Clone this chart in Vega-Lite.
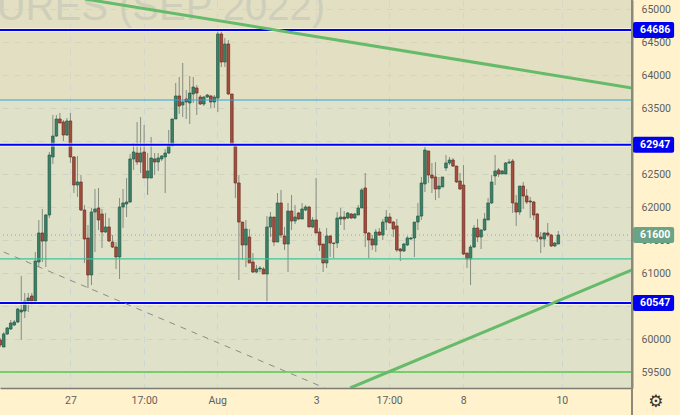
{"$schema":"https://vega.github.io/schema/vega-lite/v6.json","width":632,"height":388,"autosize":"none","padding":{"left":0,"top":0,"right":48,"bottom":27},"background":"#FFF2CD","view":{"fill":"#DFE2C8","stroke":null},
"config":{"scale":{"continuousPadding":0},"text":{"font":"Roboto"},"axis":{"labelFont":"Roboto","labelFontSize":10.5,"labelColor":"#5f5f5f","labelOverlap":false,"labelFlush":false,"labelBound":false}},
"datasets":{"candles":[
{"i":0,"o":59987,"h":60017,"l":59880,"c":59911},{"i":1,"o":59880,"h":60108,"l":59880,"c":60078},{"i":2,"o":60078,"h":60184,"l":60063,"c":60169},{"i":3,"o":60153,"h":60290,"l":60138,"c":60244},{"i":4,"o":60214,"h":60290,"l":60199,"c":60259},{"i":5,"o":60259,"h":60472,"l":60244,"c":60457},{"i":6,"o":60411,"h":60957,"l":59987,"c":60441},{"i":7,"o":60426,"h":60699,"l":60320,"c":60578},{"i":8,"o":60578,"h":60699,"l":60411,"c":60623},{"i":9,"o":60654,"h":60699,"l":60517,"c":60578},
{"i":10,"o":60578,"h":61321,"l":60563,"c":61184},{"i":11,"o":61169,"h":61806,"l":61093,"c":61609},{"i":12,"o":61609,"h":61973,"l":61169,"c":61487},{"i":13,"o":61487,"h":61897,"l":61093,"c":61882},{"i":14,"o":61882,"h":62837,"l":61836,"c":62791},{"i":15,"o":62761,"h":63398,"l":62655,"c":63079},{"i":16,"o":63079,"h":63398,"l":63064,"c":63337},{"i":17,"o":63337,"h":63428,"l":63276,"c":63276},{"i":18,"o":63291,"h":63322,"l":63003,"c":63094},{"i":19,"o":63094,"h":63352,"l":63079,"c":63307},
{"i":20,"o":63307,"h":63428,"l":62670,"c":62761},{"i":21,"o":62761,"h":62776,"l":62215,"c":62336},{"i":22,"o":62336,"h":62776,"l":62155,"c":62382},{"i":23,"o":62382,"h":62488,"l":61942,"c":61957},{"i":24,"o":61957,"h":62033,"l":61154,"c":61518},{"i":25,"o":61533,"h":61730,"l":60775,"c":60972},{"i":26,"o":60972,"h":61988,"l":60820,"c":61927},{"i":27,"o":61927,"h":62276,"l":61321,"c":61973},{"i":28,"o":61988,"h":62291,"l":61654,"c":61806},{"i":29,"o":61897,"h":61973,"l":61381,"c":61624},
{"i":30,"o":61624,"h":61912,"l":61609,"c":61700},{"i":31,"o":61700,"h":61836,"l":61472,"c":61487},{"i":32,"o":61472,"h":61578,"l":61381,"c":61396},{"i":33,"o":61396,"h":61472,"l":61063,"c":61245},{"i":34,"o":61245,"h":62139,"l":60911,"c":62003},{"i":35,"o":62003,"h":62276,"l":61684,"c":62064},{"i":36,"o":62048,"h":62443,"l":61851,"c":62079},{"i":37,"o":62079,"h":62806,"l":62064,"c":62731},{"i":38,"o":62731,"h":62973,"l":62564,"c":62837},{"i":39,"o":62821,"h":63291,"l":62640,"c":62685},
{"i":40,"o":62685,"h":63367,"l":62518,"c":62821},{"i":41,"o":62837,"h":63246,"l":62443,"c":62443},{"i":42,"o":62443,"h":62821,"l":62185,"c":62549},{"i":43,"o":62443,"h":63064,"l":62443,"c":62746},{"i":44,"o":62731,"h":62821,"l":62488,"c":62685},{"i":45,"o":62685,"h":62821,"l":62549,"c":62746},{"i":46,"o":62731,"h":62791,"l":62700,"c":62776},{"i":47,"o":62761,"h":62882,"l":62215,"c":62821},{"i":48,"o":62821,"h":63170,"l":62806,"c":62928},{"i":49,"o":62928,"h":63337,"l":62928,"c":63337},
{"i":50,"o":63337,"h":63883,"l":63337,"c":63686},{"i":51,"o":63686,"h":63974,"l":63413,"c":63534},{"i":52,"o":63549,"h":64186,"l":63367,"c":63595},{"i":53,"o":63640,"h":63777,"l":63337,"c":63595},{"i":54,"o":63580,"h":63989,"l":63261,"c":63731},{"i":55,"o":63716,"h":63974,"l":63580,"c":63822},{"i":56,"o":63807,"h":63852,"l":63398,"c":63731},{"i":57,"o":63670,"h":63701,"l":63549,"c":63564},{"i":58,"o":63564,"h":63686,"l":63534,"c":63670},{"i":59,"o":63670,"h":63716,"l":63655,"c":63701},
{"i":60,"o":63686,"h":63701,"l":63504,"c":63595},{"i":61,"o":63595,"h":63701,"l":63504,"c":63670},{"i":62,"o":63655,"h":64671,"l":63443,"c":64626},{"i":63,"o":64626,"h":64671,"l":64125,"c":64201},{"i":64,"o":64201,"h":64565,"l":64125,"c":64474},{"i":65,"o":64474,"h":64535,"l":63701,"c":63716},{"i":66,"o":63716,"h":63716,"l":62943,"c":62943},{"i":67,"o":62928,"h":62943,"l":62139,"c":62367},{"i":68,"o":62367,"h":62488,"l":60896,"c":61775},{"i":69,"o":61775,"h":61775,"l":61199,"c":61427},
{"i":70,"o":61427,"h":61806,"l":61093,"c":61669},{"i":71,"o":61548,"h":61669,"l":61154,"c":61154},{"i":72,"o":61169,"h":61305,"l":61002,"c":61017},{"i":73,"o":61017,"h":61124,"l":61002,"c":61063},{"i":74,"o":61063,"h":61108,"l":61017,"c":61078},{"i":75,"o":61063,"h":61093,"l":60987,"c":60987},{"i":76,"o":60987,"h":61866,"l":60548,"c":61700},{"i":77,"o":61700,"h":61927,"l":61548,"c":61851},{"i":78,"o":61851,"h":61851,"l":61412,"c":61472},{"i":79,"o":61472,"h":62215,"l":61472,"c":62064},
{"i":80,"o":62064,"h":62261,"l":61533,"c":61578},{"i":81,"o":61563,"h":61700,"l":61351,"c":61442},{"i":82,"o":61442,"h":62064,"l":61017,"c":61942},{"i":83,"o":61942,"h":62185,"l":61654,"c":61791},{"i":84,"o":61791,"h":62033,"l":61745,"c":61851},{"i":85,"o":61912,"h":61927,"l":61806,"c":61821},{"i":86,"o":61821,"h":62064,"l":61821,"c":61973},{"i":87,"o":61957,"h":62033,"l":61942,"c":62003},{"i":88,"o":62003,"h":62018,"l":61700,"c":61700},{"i":89,"o":61700,"h":61851,"l":61684,"c":61806},
{"i":90,"o":61806,"h":62443,"l":61609,"c":61609},{"i":91,"o":61624,"h":61684,"l":61336,"c":61427},{"i":92,"o":61442,"h":61442,"l":61017,"c":61154},{"i":93,"o":61154,"h":61684,"l":61078,"c":61563},{"i":94,"o":61563,"h":61578,"l":61245,"c":61457},{"i":95,"o":61457,"h":61457,"l":61230,"c":61450},{"i":96,"o":61457,"h":61927,"l":61381,"c":61836},{"i":97,"o":61821,"h":61988,"l":61730,"c":61851},{"i":98,"o":61851,"h":61942,"l":61654,"c":61821},{"i":99,"o":61836,"h":61927,"l":61821,"c":61912},
{"i":100,"o":61897,"h":61912,"l":61821,"c":61836},{"i":101,"o":61836,"h":61912,"l":61821,"c":61897},{"i":102,"o":61882,"h":62033,"l":61882,"c":61988},{"i":103,"o":61988,"h":62291,"l":61988,"c":62261},{"i":104,"o":62291,"h":62518,"l":61396,"c":61609},{"i":105,"o":61609,"h":61624,"l":61230,"c":61503},{"i":106,"o":61518,"h":61578,"l":61351,"c":61427},{"i":107,"o":61427,"h":61669,"l":61321,"c":61624},{"i":108,"o":61624,"h":61684,"l":61563,"c":61578},{"i":109,"o":61578,"h":61821,"l":61503,"c":61775},
{"i":110,"o":61775,"h":61957,"l":61654,"c":61851},{"i":111,"o":61851,"h":61912,"l":61760,"c":61760},{"i":112,"o":61775,"h":61791,"l":61548,"c":61669},{"i":113,"o":61715,"h":61821,"l":61321,"c":61351},{"i":114,"o":61366,"h":61381,"l":61184,"c":61336},{"i":115,"o":61336,"h":61457,"l":61321,"c":61442},{"i":116,"o":61427,"h":61563,"l":61412,"c":61533},{"i":117,"o":61518,"h":61548,"l":61503,"c":61533},{"i":118,"o":61533,"h":61775,"l":61245,"c":61775},{"i":119,"o":61775,"h":62064,"l":61654,"c":61866},
{"i":120,"o":61866,"h":62458,"l":61806,"c":62367},{"i":121,"o":62352,"h":62912,"l":62230,"c":62867},{"i":122,"o":62852,"h":62852,"l":62367,"c":62488},{"i":123,"o":62488,"h":62670,"l":62215,"c":62443},{"i":124,"o":62458,"h":62685,"l":62109,"c":62276},{"i":125,"o":62276,"h":62458,"l":62139,"c":62321},{"i":126,"o":62306,"h":62458,"l":62306,"c":62458},{"i":127,"o":62594,"h":62791,"l":62549,"c":62670},{"i":128,"o":62670,"h":62761,"l":62640,"c":62715},{"i":129,"o":62715,"h":62746,"l":62609,"c":62624},
{"i":130,"o":62624,"h":62624,"l":62367,"c":62382},{"i":131,"o":62397,"h":62518,"l":62261,"c":62276},{"i":132,"o":62336,"h":62640,"l":61275,"c":61290},{"i":133,"o":61305,"h":61305,"l":61078,"c":61215},{"i":134,"o":61215,"h":61427,"l":60820,"c":61396},{"i":135,"o":61396,"h":61730,"l":61381,"c":61684},{"i":136,"o":61684,"h":61821,"l":61472,"c":61548},{"i":137,"o":61548,"h":61669,"l":61366,"c":61654},{"i":138,"o":61654,"h":61912,"l":61639,"c":61821},{"i":139,"o":61806,"h":62139,"l":61806,"c":62064},
{"i":140,"o":62064,"h":62488,"l":62048,"c":62382},{"i":141,"o":62473,"h":62791,"l":62336,"c":62549},{"i":142,"o":62564,"h":62594,"l":62458,"c":62503},{"i":143,"o":62503,"h":62564,"l":62503,"c":62549},{"i":144,"o":62503,"h":62685,"l":62503,"c":62670},{"i":145,"o":62670,"h":62731,"l":62655,"c":62685},{"i":146,"o":62700,"h":62731,"l":61912,"c":62064},{"i":147,"o":62064,"h":62185,"l":61715,"c":61927},{"i":148,"o":61927,"h":62321,"l":61882,"c":62321},{"i":149,"o":62321,"h":62382,"l":61973,"c":62170},
{"i":150,"o":62170,"h":62276,"l":62048,"c":62079},{"i":151,"o":62094,"h":62155,"l":61836,"c":62079},{"i":152,"o":62079,"h":62094,"l":61806,"c":61882},{"i":153,"o":61897,"h":61912,"l":61472,"c":61548},{"i":154,"o":61548,"h":61624,"l":61305,"c":61518},{"i":155,"o":61518,"h":61624,"l":61396,"c":61609},{"i":156,"o":61609,"h":61760,"l":61548,"c":61578},{"i":157,"o":61578,"h":61594,"l":61396,"c":61412},{"i":158,"o":61412,"h":61472,"l":61396,"c":61457},{"i":159,"o":61442,"h":61639,"l":61442,"c":61578}
],
"levels":[{"p":64686,"label":"64686"},{"p":62947,"label":"62947"},{"p":60547,"label":"60547"}],
"tags":[{"p":61578,"label":"61600"},{"p":64686,"label":"64686"},{"p":62947,"label":"62947"},{"p":60547,"label":"60547"}]},
"layer":[
{"data":{"values":[{"a":63625,"b":65141}]},"mark":{"type":"rect","fill":"#F0D8B0","opacity":0.25},"encoding":{"y":{"field":"a","type":"quantitative","scale":{"domain":[59259,65141],"nice":false,"zero":false},"title":null,"axis":{"values":[59500,60000,60500,61000,61500,62000,62500,63000,63500,64000,64500,65000],"tickCount":20,"format":"d","orient":"right","title":null,"ticks":false,"labelPadding":9,"labelOverlap":false,"domain":true,"domainColor":"#8A8A7A","domainWidth":2,"grid":true,"gridColor":"#D0D3C0","gridDash":[6,6],"gridWidth":1}},"y2":{"field":"b"}}},
{"data":{"values":[{"t":"URES (SEP 2022)","i":-1,"p":64838}]},"mark":{"type":"text","align":"left","baseline":"alphabetic","font":"Liberation Sans","fontSize":40,"color":"#CECFBB"},"encoding":{"x":{"field":"i","type":"quantitative","title":null,"scale":{"domain":[-0.06,180],"nice":false,"zero":false}},"y":{"field":"p","type":"quantitative","title":null,"scale":{"domain":[59259,65141],"nice":false,"zero":false}},"text":{"field":"t"}}},
{"data":{"values":[{"p":61578}]},"mark":{"type":"rule","color":"#8DA996","strokeDash":[1,3],"strokeWidth":1},"encoding":{"y":{"field":"p","type":"quantitative","title":null,"scale":{"domain":[59259,65141],"nice":false,"zero":false}}}},
{"data":{"name":"candles"},"mark":{"type":"rule","color":"#858C82","strokeWidth":1,"clip":true},"encoding":{"x":{"field":"i","type":"quantitative","title":null,"scale":{"domain":[-0.06,180],"nice":false,"zero":false},"axis":{"values":[20,41,61.8,90,110.8,131.9,160],"tickCount":20,"labelExpr":"datum.value==20?'27':datum.value==41?'17:00':datum.value==61.8?'Aug':datum.value==90?'3':datum.value==110.8?'17:00':datum.value==131.9?'8':'10'","orient":"bottom","title":null,"ticks":false,"labelPadding":7,"labelOverlap":false,"labelFlush":false,"domain":true,"domainColor":"#7C7C70","domainWidth":1.5,"grid":true,"gridColor":"#CBD5D4","gridDash":[6,6],"gridWidth":1}},"y":{"field":"h","type":"quantitative","title":null,"scale":{"domain":[59259,65141],"nice":false,"zero":false}},"y2":{"field":"l"}}},
{"data":{"name":"candles"},"mark":{"type":"bar","size":2.6,"strokeWidth":0.7,"clip":true},"encoding":{"x":{"field":"i","type":"quantitative","title":null,"scale":{"domain":[-0.06,180],"nice":false,"zero":false}},"y":{"field":"o","type":"quantitative","title":null,"scale":{"domain":[59259,65141],"nice":false,"zero":false}},"y2":{"field":"c"},"fill":{"condition":{"test":"datum.c>=datum.o","value":"#3F8068"},"value":"#A34F40"},"stroke":{"condition":{"test":"datum.c>=datum.o","value":"#1F5A46"},"value":"#6E2A20"}}},
{"data":{"values":[{"p":63625}]},"mark":{"type":"rule","color":"#2BA6DE","strokeWidth":1.2},"encoding":{"y":{"field":"p","type":"quantitative","title":null,"scale":{"domain":[59259,65141],"nice":false,"zero":false}}}},
{"data":{"values":[{"p":61215}]},"mark":{"type":"rule","color":"#3CC49C","strokeWidth":1.2},"encoding":{"y":{"field":"p","type":"quantitative","title":null,"scale":{"domain":[59259,65141],"nice":false,"zero":false}}}},
{"data":{"values":[{"p":59500}]},"mark":{"type":"rule","color":"#55C94F","strokeWidth":1.5},"encoding":{"y":{"field":"p","type":"quantitative","title":null,"scale":{"domain":[59259,65141],"nice":false,"zero":false}}}},
{"data":{"name":"levels"},"mark":{"type":"rule","color":"#FFFFFF","opacity":0.6,"strokeWidth":4},"encoding":{"y":{"field":"p","type":"quantitative","title":null,"scale":{"domain":[59259,65141],"nice":false,"zero":false}}}},
{"data":{"name":"levels"},"mark":{"type":"rule","color":"#0000F0","strokeWidth":2},"encoding":{"y":{"field":"p","type":"quantitative","title":null,"scale":{"domain":[59259,65141],"nice":false,"zero":false}}}},
{"data":{"values":[{"id":"a","i":24.2,"p":65156},{"id":"a","i":180,"p":63807},{"id":"b","i":99.7,"p":59259},{"id":"b","i":180,"p":61048}]},"mark":{"type":"line","color":"#66BB6A","strokeWidth":3,"clip":true},"encoding":{"x":{"field":"i","type":"quantitative","title":null,"scale":{"domain":[-0.06,180],"nice":false,"zero":false}},"y":{"field":"p","type":"quantitative","title":null,"scale":{"domain":[59259,65141],"nice":false,"zero":false}},"detail":{"field":"id"}}},
{"data":{"values":[{"i":1,"p":61320},{"i":92.5,"p":59259}]},"mark":{"type":"line","color":"#8C8C84","strokeWidth":1,"strokeDash":[6,6],"clip":true},"encoding":{"x":{"field":"i","type":"quantitative","title":null,"scale":{"domain":[-0.06,180],"nice":false,"zero":false}},"y":{"field":"p","type":"quantitative","title":null,"scale":{"domain":[59259,65141],"nice":false,"zero":false}}}},
{"data":{"values":[{"p":65141,"q":58850}]},"mark":{"type":"rule","color":"#8A8A7A","strokeWidth":2},"encoding":{"x":{"datum":180,"type":"quantitative","title":null,"scale":{"domain":[-0.06,180],"nice":false,"zero":false}},"y":{"field":"p","type":"quantitative","title":null,"scale":{"domain":[59259,65141],"nice":false,"zero":false}},"y2":{"field":"q"}}},
{"data":{"name":"tags"},"mark":{"type":"bar","orient":"horizontal","size":16,"cornerRadius":2},"encoding":{"x":{"datum":180.3,"type":"quantitative","title":null,"scale":{"domain":[-0.06,180],"nice":false,"zero":false}},"x2":{"datum":192},"y":{"field":"p","type":"quantitative","title":null,"scale":{"domain":[59259,65141],"nice":false,"zero":false}},"fill":{"condition":{"test":"datum.label=='61600'","value":"#6BA387"},"value":"#0000F0"}}},
{"data":{"name":"tags"},"mark":{"type":"text","font":"Roboto","fontSize":10.5,"fontWeight":"bold","color":"#FFFFFF","align":"center","baseline":"middle"},"encoding":{"x":{"datum":186.6,"type":"quantitative","title":null,"scale":{"domain":[-0.06,180],"nice":false,"zero":false}},"y":{"field":"p","type":"quantitative","title":null,"scale":{"domain":[59259,65141],"nice":false,"zero":false}},"text":{"field":"label"}}},
{"data":{"values":[{"p":59047,"t":"⚙"}]},"mark":{"type":"text","font":"DejaVu Sans","fontSize":17,"color":"#333333","align":"center","baseline":"middle"},"encoding":{"x":{"datum":186.8,"type":"quantitative","title":null,"scale":{"domain":[-0.06,180],"nice":false,"zero":false}},"y":{"field":"p","type":"quantitative","title":null,"scale":{"domain":[59259,65141],"nice":false,"zero":false}},"text":{"field":"t"}}}
]}
